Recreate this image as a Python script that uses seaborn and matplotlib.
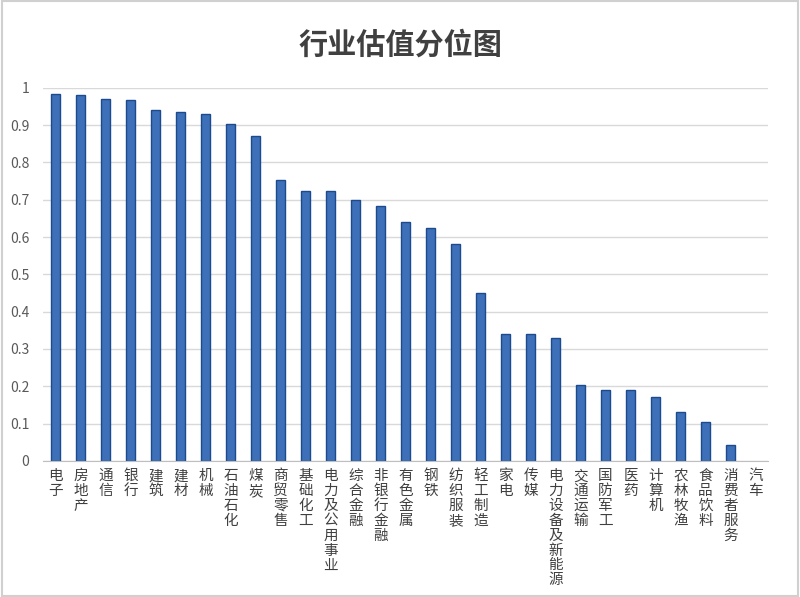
import matplotlib
matplotlib.use('Agg')
import matplotlib.pyplot as plt
import seaborn as sns
import pandas as pd
from matplotlib.patches import Rectangle

# industries and valuation percentile
industries = ['电子', '房地产', '通信', '银行', '建筑', '建材', '机械', '石油石化', '煤炭',
              '商贸零售', '基础化工', '电力及公用事业', '综合金融', '非银行金融', '有色金属',
              '钢铁', '纺织服装', '轻工制造', '家电', '传媒', '电力设备及新能源', '交通运输',
              '国防军工', '医药', '计算机', '农林牧渔', '食品饮料', '消费者服务', '汽车']
percentile = [0.984, 0.981, 0.971, 0.968, 0.941, 0.936, 0.930, 0.903, 0.871,
              0.753, 0.724, 0.722, 0.700, 0.682, 0.641,
              0.625, 0.582, 0.450, 0.340, 0.340, 0.328, 0.203,
              0.190, 0.190, 0.171, 0.130, 0.105, 0.043, 0.0]
y_ticks = [0, 0.1, 0.2, 0.3, 0.4, 0.5, 0.6, 0.7, 0.8, 0.9, 1]

df = pd.DataFrame({'industry': industries, 'value': percentile})

sns.set_style('white')
plt.rcParams['font.family'] = ['Noto Sans CJK SC', 'DejaVu Sans']

fig = plt.figure(figsize=(8, 5.97), dpi=100)
ax = fig.add_axes([0.054, 0.228, 0.906, 0.625])

sns.barplot(data=df, x='industry', y='value', color='#3d70b8', width=0.38,
            edgecolor='#1d4a8c', linewidth=1.0, saturation=1, ax=ax)
# a zero-height bar shows no outline in the original
for p in ax.patches:
    if p.get_height() == 0:
        p.set_visible(False)

ax.set_ylim(0, 1)
ax.set_yticks(y_ticks)
ax.set_yticklabels(['%g' % t for t in y_ticks], color='#595959', fontsize=10)
ax.yaxis.grid(True, color='#d9d9d9', linewidth=1)
ax.set_axisbelow(True)
for s in ['top', 'right', 'left']:
    ax.spines[s].set_visible(False)
ax.spines['bottom'].set_color('#bfbfbf')
ax.tick_params(axis='both', length=0, pad=10)
ax.set_xlabel('')
ax.set_ylabel('')

# vertical stacked labels, one char per line
ax.set_xticks(range(len(industries)))
ax.set_xticklabels(['\n'.join(n) for n in industries], fontsize=10.5, color='#404040',
                   va='top', linespacing=1.08)
ax.tick_params(axis='x', pad=6)

fig.text(0.5, 0.925, '行业估值分位图', ha='center', va='center', fontsize=21,
         fontweight='bold', color='#404040')

fig.patches.append(Rectangle((0.002, 0.002), 0.996, 0.996, transform=fig.transFigure,
                             fill=False, edgecolor='#d0d0d0', linewidth=1.5))

fig.savefig('out.png', dpi=100)
